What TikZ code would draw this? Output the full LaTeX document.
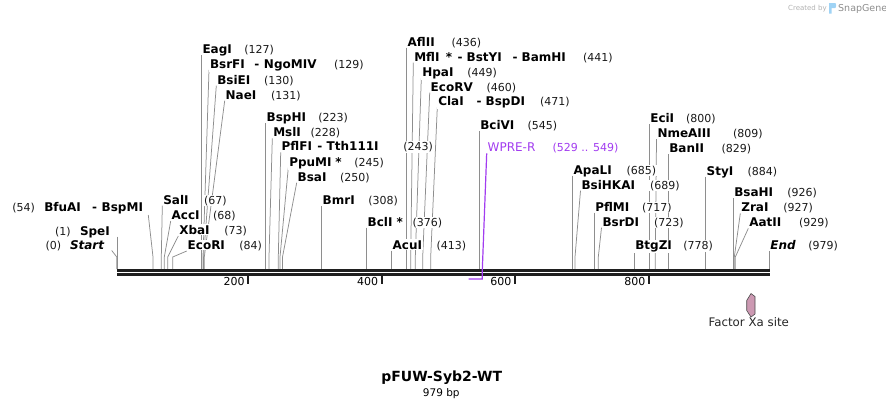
\documentclass[tikz,border=0pt]{standalone}
\usepackage{fontspec}
\setmainfont{DejaVu Sans}
\usetikzlibrary{backgrounds}
\definecolor{wpre}{HTML}{A23CF0}
\definecolor{lgray}{HTML}{8E8E8E}
\definecolor{fxa}{HTML}{CC99B2}
\definecolor{sglogo}{HTML}{9FD3F5}
\tikzset{
  lbl/.style={anchor=base west, fill=white, inner xsep=1pt, inner ysep=1pt, outer sep=0pt, text=black,
    font=\fontsize{12}{14}\selectfont\bfseries},
  lbli/.style={lbl, font=\fontsize{12}{14}\selectfont\bfseries\itshape},
  num/.style={anchor=base west, fill=white, inner xsep=1pt, inner ysep=1pt, outer sep=0pt, text=black!90,
    font=\fontsize{11}{13}\selectfont},
  siteline/.style={draw=lgray, line width=0.75pt},
  bbline/.style={draw=black!88, line width=2.5pt},
  tickmark/.style={draw=black!88, line width=1.8pt},
  ticklbl/.style={anchor=base east, inner sep=0pt, font=\fontsize{11}{13}\selectfont},
  featline/.style={draw=wpre, line width=1.2pt},
}
\newcommand\pp[2]{\makebox[#1pt][l]{#2}}
% name, xtext, baseline, label, numx, num, knee x
\newcommand\site[7]{%
  \node[lbl] (#1) at (#2-1,#3) {#4};
  \node[num] (#1n) at (#5-1,#3) {(#6)};
  \coordinate (#1k) at (#7,257);
  \coordinate (#1b) at (#7,269);
  \begin{pgfonlayer}{background}
    \draw[siteline] ([yshift=-1.7pt]#1.base west) -- (#1k) -- (#1b);
  \end{pgfonlayer}
}
\begin{document}
\begin{tikzpicture}[x=1pt,y=-1pt]
\useasboundingbox (0,0) rectangle (886,408);

% backbone
\coordinate (bbL1) at (117,270.3); \coordinate (bbR1) at (769.8,270.3);
\coordinate (bbL2) at (117,274.5); \coordinate (bbR2) at (769.8,274.5);
\draw[bbline] (bbL1) -- (bbR1);
\draw[bbline, line width=2.3pt] (bbL2) -- (bbR2);

% ticks
\foreach \tx/\tl in {248.3/200, 381.7/400, 515/600, 649/800}{
  \coordinate (ta\tl) at (\tx,275.6);
  \coordinate (tb\tl) at (\tx,283.5);
  \draw[tickmark] (ta\tl) -- (tb\tl);
  \node[ticklbl] (tl\tl) at (\tx-3.5,285.7) {\tl};
}

% left labels (number first)
\node[num] (Startn) at (45.5-1,249.3) {(0)};
\node[lbli] (Start) at (70-1,249.3) {Start};
\coordinate (Starts) at (111.7,250.5);
\coordinate (Startk) at (116.8,257);
\coordinate (Startb) at (116.8,269);
\begin{pgfonlayer}{background}
\draw[siteline] (Starts) -- (Startk) -- (Startb);
\end{pgfonlayer}

\node[num] (SpeIn) at (55-1,235) {(1)};
\node[lbl] (SpeI) at (80-1,235) {SpeI};
\coordinate (SpeIs) at (117.4,236.7);
\coordinate (SpeIb) at (117.4,269);
\begin{pgfonlayer}{background}
\draw[siteline] (SpeIs) -- (SpeIb);
\end{pgfonlayer}

\node[num] (BfuAIn) at (12.3-1,211.7) {(54)};
\node[lbl] (BfuAI) at (44.3-1,211.7) {\pp{47.9}{BfuAI}\pp{9.5}{-}BspMI};
\coordinate (BfuAIs) at (148.3,215);
\coordinate (BfuAIk) at (153,257);
\coordinate (BfuAIb) at (153,269);
\begin{pgfonlayer}{background}
\draw[siteline] (BfuAIs) -- (BfuAIk) -- (BfuAIb);
\end{pgfonlayer}

\site{SalI}{163.3}{204}{SalI}{204}{67}{161.3}
\site{AccI}{171.7}{219.3}{AccI}{213}{68}{164.3}
\site{XbaI}{179.3}{234.3}{XbaI}{224.3}{73}{167.7}
\site{EcoRI}{187.7}{249.3}{EcoRI}{239.3}{84}{172.7}

% top-left group
\site{EagI}{202.5}{53.3}{EagI}{244.3}{127}{201.6}
\site{BsrFI}{210}{68.3}{\pp{44.4}{BsrFI}\pp{9.6}{-}NgoMIV}{334}{129}{203}
\site{BsiEI}{217.3}{84}{BsiEI}{264}{130}{203.6}
\site{NaeI}{225.7}{99}{NaeI}{271}{131}{204.3}

\site{BspHI}{266.7}{121.7}{BspHI}{318.3}{223}{265.7}
\site{MslI}{273.3}{136.7}{MslI}{310.7}{228}{269}
\site{PflFI}{281.7}{150.7}{\pp{35.7}{PflFI}\pp{9.3}{-}Tth111I}{403.3}{243}{278.3}
\site{PpuMI}{289.3}{166}{\pp{46}{PpuMI}*}{354.3}{245}{280}
\site{BsaI}{297.7}{181}{BsaI}{340}{250}{282.5}
\site{BmrI}{322.7}{204.3}{BmrI}{368.3}{308}{321.7}
\site{BclI}{367.7}{226}{\pp{29}{BclI}*}{412.7}{376}{366.7}
\site{AcuI}{392.7}{249}{AcuI}{436.7}{413}{391.7}

% top-middle group
\site{AflII}{407.7}{46}{AflII}{451.7}{436}{406.7}
\site{MflI}{414.3}{61}{\pp{31.7}{MflI}\pp{11.7}{*}\pp{9}{-}\pp{46}{BstYI}\pp{9}{-}BamHI}{583}{441}{410.7}
\site{HpaI}{422.3}{76.7}{HpaI}{467.3}{449}{415.3}
\site{EcoRV}{430.7}{91}{EcoRV}{486.7}{460}{422.7}
\site{ClaI}{438.3}{105.7}{\pp{38.4}{ClaI}\pp{9}{-}BspDI}{540}{471}{430.7}
\site{BciVI}{480.3}{129.3}{BciVI}{527.7}{545}{479.3}

% WPRE-R feature
\node[lbl, font=\fontsize{12}{14}\selectfont, text=wpre] (wpre) at (487.7-1,151.7) {WPRE-R};
\node[num, text=wpre] (wpren) at (552.7-1,151.7) {(529 .. 549)};
\coordinate (wprek) at (482.3,270);
\coordinate (wpreb) at (482.3,279);
\coordinate (wpree) at (468.5,279);
\draw[featline] ([yshift=-1.7pt]wpre.base west) -- (wprek) -- (wpreb) -- (wpree);

% right groups
\site{ApaLI}{573.7}{174}{ApaLI}{626.7}{685}{572.7}
\site{BsiHKAI}{581.5}{189}{BsiHKAI}{650}{689}{575}
\site{PflMI}{595.3}{211}{PflMI}{642}{717}{594.3}
\site{BsrDI}{602.5}{226}{BsrDI}{654}{723}{598.3}
\site{BtgZI}{635.3}{249.3}{BtgZI}{683.3}{778}{634.3}

\site{EciI}{650.3}{122.5}{EciI}{686}{800}{649.3}
\site{NmeAIII}{657.5}{137.5}{NmeAIII}{733}{809}{655.3}
\site{BanII}{669.3}{152.5}{BanII}{721.7}{829}{668.3}

\site{StyI}{706.7}{175}{StyI}{747.7}{884}{705.7}
\site{BsaHI}{734.3}{196.7}{BsaHI}{787.3}{926}{733.3}
\site{ZraI}{741.3}{211.7}{ZraI}{783.3}{927}{734.3}
\site{AatII}{749.3}{226.7}{AatII}{799}{929}{735.3}

\node[lbli] (End) at (770.3-1,249.3) {End};
\node[num] (Endn) at (808.3-1,249.3) {(979)};
\coordinate (Endk) at (769.3,257);
\coordinate (Endb) at (769.3,269);
\begin{pgfonlayer}{background}
\draw[siteline] ([yshift=-1.7pt]End.base west) -- (Endk) -- (Endb);
\end{pgfonlayer}

% Factor Xa site feature
\draw[draw=black!70, fill=fxa, line width=0.6pt]
  (755,296.5) -- (751,293.5) -- (746.7,300.5) -- (746.7,310.5) -- (751,317) -- (755,314) -- cycle;
\node[anchor=base, inner sep=0pt, font=\fontsize{11.8}{14}\selectfont, text=black!85] (fxal) at (748.8,326) {Factor Xa site};

% title
\node[anchor=base, inner sep=0pt, font=\fontsize{14}{16}\selectfont\bfseries] (title) at (441.7,381) {pFUW-Syb2-WT};
\node[anchor=base, inner sep=0pt, font=\fontsize{10.5}{12}\selectfont] (len) at (441.3,396) {979 bp};

% watermark
\node[anchor=base west, inner sep=0pt, font=\fontsize{7}{8}\selectfont, text=black!30] (wm1) at (788,10.5) {Created by};
\fill[sglogo] (829,3) -- (835,3) .. controls (836.5,3) and (836.5,8) .. (835,8) -- (831.5,8) -- (831.5,13.5) -- (829,13.5) -- cycle;
\node[anchor=base west, inner sep=0pt, font=\fontsize{9.5}{11}\selectfont, text=black!45] (wm2) at (838,11.5) {SnapGene};
\end{tikzpicture}
\end{document}
